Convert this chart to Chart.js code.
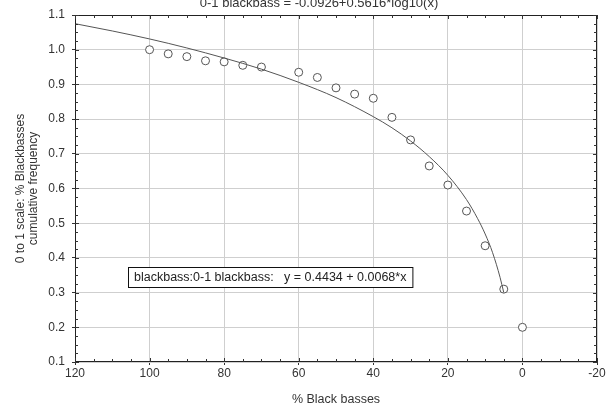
<!DOCTYPE html>
<html>
<head>
<meta charset="utf-8">
<script src="https://cdn.jsdelivr.net/npm/chart.js@4.4.1/dist/chart.umd.min.js"></script>
<style>
  html, body { margin: 0; padding: 0; background: #fff; }
  #wrap { width: 610px; height: 414px; }
</style>
</head>
<body>
<div id="wrap"><canvas id="chart" width="610" height="414"></canvas></div>
<script>
// observed points: % black basses vs cumulative frequency (0-1 scale)
const pctBass = [100, 95, 90, 85, 80, 75, 70, 60, 55, 50, 45, 40, 35, 30, 25, 20, 15, 10, 5, 0];
const cumFreq = [1.0, 0.988, 0.98, 0.968, 0.965, 0.955, 0.95, 0.935, 0.92, 0.89, 0.872, 0.86, 0.805, 0.74, 0.665, 0.61, 0.535, 0.435, 0.31, 0.2];

// fitted curve
const fitX = [120, 110, 100, 90, 80, 70, 60, 50, 40, 35, 30, 25, 20, 15, 12, 10, 8, 6, 5];
const fitY = [1.075, 1.054, 1.031, 1.005, 0.976, 0.944, 0.906, 0.862, 0.807, 0.775, 0.737, 0.692, 0.638, 0.568, 0.513, 0.469, 0.415, 0.344, 0.3];

const xTicks = [120, 100, 80, 60, 40, 20, 0, -20];
const yTicks = [1.1, 1.0, 0.9, 0.8, 0.7, 0.6, 0.5, 0.4, 0.3, 0.2, 0.1];

const titleText = "0-1 blackbass = -0.0926+0.5616*log10(x)";
const legendText = "blackbass:0-1 blackbass:   y = 0.4434 + 0.0068*x";

const FONT = "'Liberation Sans', Arial, sans-serif";

const pointData = pctBass.map((x, i) => ({ x: x, y: cumFreq[i] }));
const fitData = fitX.map((x, i) => ({ x: x, y: fitY[i] }));

// frame, minor ticks, legend box and clipped title
const extras = {
  id: "extras",
  afterDraw(chart) {
    const ctx = chart.ctx;
    const a = chart.chartArea;
    const xs = chart.scales.x, ys = chart.scales.y;
    ctx.save();
    ctx.strokeStyle = "#222";
    ctx.lineWidth = 1;
    ctx.strokeRect(a.left + 0.5, a.top + 0.5, a.right - a.left - 1, a.bottom - a.top - 1);

    // minor ticks inward on all four sides
    ctx.strokeStyle = "#333";
    ctx.beginPath();
    for (let v = -20; v <= 120; v += 5) {
      const px = Math.round(xs.getPixelForValue(v)) + 0.5;
      const len = v % 20 === 0 ? 4 : 3;
      ctx.moveTo(px, a.top); ctx.lineTo(px, a.top + len);
      ctx.moveTo(px, a.bottom); ctx.lineTo(px, a.bottom - len);
    }
    for (let k = 4; k <= 44; k++) {
      const py = Math.round(ys.getPixelForValue(k * 0.025)) + 0.5;
      const len = k % 4 === 0 ? 4 : 3;
      ctx.moveTo(a.left, py); ctx.lineTo(a.left + len, py);
      ctx.moveTo(a.right, py); ctx.lineTo(a.right - len, py);
    }
    ctx.stroke();

    // legend box
    ctx.font = "12.5px " + FONT;
    const tw = ctx.measureText(legendText).width;
    const bx = a.left + 53, by = a.top + 252;
    ctx.fillStyle = "#fff";
    ctx.fillRect(bx, by, tw + 12, 20);
    ctx.strokeStyle = "#111";
    ctx.strokeRect(bx + 0.5, by + 0.5, tw + 12, 20);
    ctx.fillStyle = "#222";
    ctx.textBaseline = "middle";
    ctx.fillText(legendText, bx + 6, by + 11);

    // title, clipped at the top edge
    ctx.font = "13px " + FONT;
    ctx.textAlign = "center";
    ctx.textBaseline = "alphabetic";
    ctx.fillStyle = "#333";
    ctx.fillText(titleText, a.left + 244, 7);
    ctx.restore();
  }
};

new Chart(document.getElementById("chart").getContext("2d"), {
  type: "scatter",
  data: {
    datasets: [
      {
        label: "fit",
        data: fitData,
        showLine: true,
        borderColor: "#555",
        borderWidth: 1,
        pointRadius: 0,
        cubicInterpolationMode: "monotone",
        fill: false
      },
      {
        label: "blackbass",
        data: pointData,
        pointStyle: "circle",
        pointRadius: 4,
        pointBackgroundColor: "#fff",
        pointBorderColor: "#555",
        pointBorderWidth: 1
      }
    ]
  },
  options: {
    responsive: false,
    animation: false,
    layout: { padding: { top: 15, right: 13, left: 0, bottom: 0 } },
    plugins: {
      legend: { display: false },
      tooltip: { enabled: false }
    },
    scales: {
      x: {
        type: "linear",
        reverse: true,
        min: -20,
        max: 120,
        afterBuildTicks: s => { s.ticks = xTicks.map(v => ({ value: v })); },
        afterFit: s => { s.height = 52; },
        grid: { color: "#cfcfcf", drawTicks: true, tickLength: 3, tickColor: "#333" },
        border: { display: false },
        ticks: {
          color: "#333",
          font: { family: FONT, size: 12 },
          padding: 1,
          maxRotation: 0,
          callback: v => String(v)
        },
        title: {
          display: true,
          text: "% Black basses",
          color: "#333",
          font: { family: FONT, size: 12.5 },
          padding: { top: 10, bottom: 7 }
        }
      },
      y: {
        type: "linear",
        min: 0.1,
        max: 1.1,
        afterBuildTicks: s => { s.ticks = yTicks.map(v => ({ value: v })); },
        afterFit: s => { s.width = 75; },
        grid: { color: "#cfcfcf", drawTicks: true, tickLength: 3, tickColor: "#333" },
        border: { display: false },
        ticks: {
          color: "#333",
          font: { family: FONT, size: 12 },
          padding: 7,
          callback: v => v.toFixed(1)
        },
        title: {
          display: true,
          text: ["0 to 1 scale: % Blackbasses", "cumulative frequency"],
          color: "#333",
          font: { family: FONT, size: 12, lineHeight: 1.1 },
          padding: { top: 14, bottom: 0 }
        }
      }
    }
  },
  plugins: [extras]
});
</script>
</body>
</html>
